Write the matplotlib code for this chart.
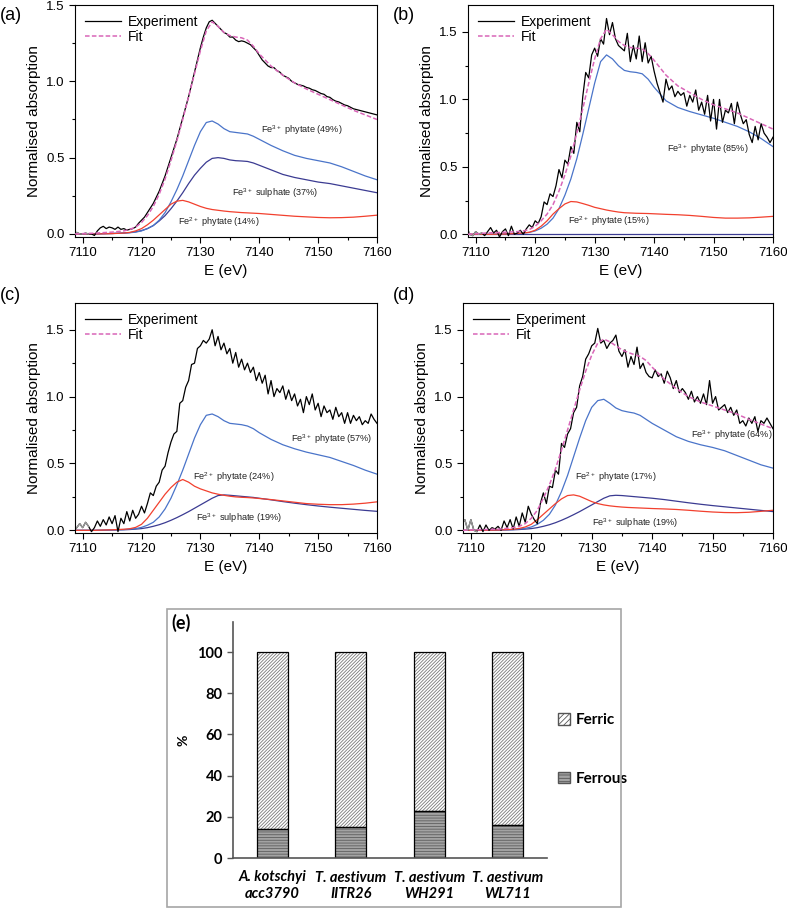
import numpy as np
import matplotlib
matplotlib.use("Agg")
import matplotlib.pyplot as plt
from matplotlib.patches import Rectangle, Patch
from matplotlib.ticker import MultipleLocator

plt.rcParams['font.family'] = ['Liberation Sans', 'DejaVu Sans']
plt.rcParams['mathtext.default'] = 'regular'
plt.rcParams['hatch.linewidth'] = 0.6

# energy grids (eV)
e_exp = np.arange(7108.5, 7160.25, 0.5)
e_comp = [7108.7, 7112, 7115, 7117, 7118, 7119, 7120, 7121, 7122, 7123, 7124, 7125,
          7126, 7127, 7128, 7129, 7130, 7131, 7132, 7133, 7134, 7135, 7136, 7137,
          7138, 7139, 7140, 7142, 7144, 7146, 7148, 7150, 7152, 7154, 7156, 7158, 7160]

# ---- panel (a)
a_exp = [0.0, 0.01, 0.0, 0.0, 0.005, 0.0, 0.0, -0.01, 0.02, 0.04,
         0.05, 0.035, 0.045, 0.04, 0.03, 0.045, 0.03, 0.035, 0.025, 0.03,
         0.035, 0.045, 0.07,
         0.09, 0.11, 0.14, 0.17, 0.2, 0.24, 0.28, 0.33, 0.38, 0.44,
         0.5, 0.56, 0.62, 0.69, 0.76, 0.83, 0.9, 0.98, 1.06, 1.14,
         1.22, 1.29, 1.35, 1.39, 1.40, 1.38, 1.36, 1.34, 1.32, 1.31,
         1.29, 1.29, 1.27, 1.26, 1.265, 1.26, 1.25, 1.24, 1.22, 1.2,
         1.17, 1.14, 1.12, 1.10, 1.09, 1.09, 1.07, 1.06, 1.04, 1.03,
         1.02, 1.0, 0.99, 0.98, 0.975, 0.97, 0.96, 0.955, 0.945, 0.94,
         0.93, 0.92, 0.915, 0.90, 0.895, 0.88, 0.87, 0.865, 0.855, 0.845,
         0.84, 0.83, 0.82, 0.815, 0.81, 0.805, 0.80, 0.795, 0.79, 0.785,
         0.78]
a_fit = [0.0, 0.005, 0.012, 0.02, 0.03, 0.045, 0.075, 0.12, 0.18, 0.26, 0.36, 0.48,
         0.61, 0.75, 0.9, 1.05, 1.2, 1.33, 1.39, 1.36, 1.32, 1.30, 1.29, 1.285,
         1.27, 1.23, 1.18, 1.10, 1.04, 0.99, 0.95, 0.915, 0.88, 0.845, 0.81, 0.78, 0.75]
a_phy3 = [0.0, 0.0, 0.003, 0.006, 0.008, 0.012, 0.02, 0.035, 0.055, 0.09, 0.14, 0.21,
          0.29, 0.38, 0.48, 0.58, 0.67, 0.73, 0.74, 0.72, 0.69, 0.67, 0.665, 0.66,
          0.655, 0.64, 0.62, 0.58, 0.545, 0.515, 0.495, 0.48, 0.465, 0.44, 0.41, 0.38, 0.355]
a_sul3 = [0.0, 0.0, 0.003, 0.006, 0.009, 0.014, 0.022, 0.035, 0.055, 0.085, 0.12, 0.165,
          0.215, 0.27, 0.33, 0.385, 0.43, 0.47, 0.495, 0.50, 0.495, 0.485, 0.48, 0.478,
          0.475, 0.465, 0.45, 0.42, 0.39, 0.37, 0.355, 0.34, 0.33, 0.315, 0.30, 0.285, 0.27]
a_phy2 = [0.0, 0.0, 0.002, 0.006, 0.01, 0.02, 0.035, 0.06, 0.09, 0.125, 0.16, 0.195,
          0.215, 0.22, 0.21, 0.195, 0.18, 0.168, 0.16, 0.155, 0.15, 0.146, 0.143, 0.14,
          0.138, 0.136, 0.134, 0.128, 0.122, 0.116, 0.112, 0.108, 0.106, 0.107, 0.11, 0.116, 0.123]

# ---- panel (b)
b_exp = [0.05, 0.0, -0.01, 0.02, 0.0, 0.01, -0.01, 0.02, 0.05, 0.01,
         0.03, -0.02, 0.02, 0.04, -0.01, 0.06, 0.0, 0.01, 0.03, 0.0,
         0.04, 0.07, 0.05,
         0.1, 0.08, 0.13, 0.24, 0.22, 0.3, 0.28, 0.36, 0.48, 0.42,
         0.55, 0.52, 0.65, 0.6, 0.83, 0.76, 1.02, 1.2, 1.16, 1.33,
         1.38, 1.32, 1.45, 1.41, 1.60, 1.48, 1.57, 1.45, 1.40, 1.38,
         1.36, 1.49, 1.28, 1.40, 1.30, 1.47, 1.28, 1.42, 1.27, 1.32,
         1.21, 1.12, 1.05, 0.98, 1.15, 1.07, 1.10, 1.02, 1.06, 1.03,
         1.05, 0.95, 1.03, 0.98, 1.07, 0.92, 0.98, 0.89, 1.03, 0.84,
         1.0, 0.78, 1.0, 0.83, 0.92, 0.90, 0.97, 0.82, 0.98, 0.89,
         0.82, 0.85, 0.74, 0.68, 0.80, 0.70, 0.82, 0.75, 0.72, 0.68,
         0.72]
b_fit = [0.0, 0.01, 0.015, 0.02, 0.025, 0.035, 0.06, 0.1, 0.15, 0.22, 0.32, 0.44,
         0.58, 0.75, 0.93, 1.12, 1.3, 1.45, 1.52, 1.48, 1.43, 1.40, 1.385, 1.38,
         1.375, 1.34, 1.29, 1.18, 1.10, 1.05, 1.0, 0.96, 0.93, 0.90, 0.86, 0.82, 0.78]
b_phy3 = [0.0, 0.0, 0.003, 0.006, 0.009, 0.014, 0.025, 0.045, 0.075, 0.12, 0.19, 0.29,
          0.41, 0.56, 0.74, 0.93, 1.12, 1.28, 1.33, 1.30, 1.25, 1.215, 1.205, 1.20,
          1.19, 1.15, 1.09, 0.99, 0.94, 0.91, 0.885, 0.86, 0.83, 0.80, 0.76, 0.71, 0.65]
b_sul3 = [0.0] * 37
b_phy2 = [0.0, 0.0, 0.002, 0.006, 0.01, 0.015, 0.03, 0.06, 0.1, 0.15, 0.19, 0.225,
          0.243, 0.24, 0.228, 0.215, 0.2, 0.19, 0.18, 0.172, 0.165, 0.16, 0.158, 0.156,
          0.155, 0.154, 0.152, 0.148, 0.145, 0.14, 0.133, 0.125, 0.12, 0.12, 0.122, 0.127, 0.133]

# ---- panel (c)
c_exp = [0.0, 0.02, 0.05, 0.02, 0.06, 0.03, -0.01, 0.02, 0.07, 0.03,
         0.08, 0.04, 0.10, 0.05, 0.11, -0.01, 0.09, 0.05, 0.14, 0.07,
         0.15, 0.09, 0.12,
         0.18, 0.13, 0.2, 0.28, 0.26, 0.33, 0.36, 0.45, 0.48, 0.58,
         0.66, 0.72, 0.74, 0.95, 0.97, 1.07, 1.12, 1.24, 1.25, 1.36,
         1.38, 1.42, 1.40, 1.43, 1.50, 1.38, 1.45, 1.35, 1.40, 1.32,
         1.36, 1.25, 1.33, 1.22, 1.28, 1.20, 1.25, 1.18, 1.22, 1.12,
         1.18, 1.10, 1.16, 1.02, 1.12, 1.00, 1.06, 1.03, 1.08, 0.98,
         1.05, 0.97, 1.02, 0.93, 0.98, 0.88, 1.0, 0.94, 1.02, 0.90,
         0.95, 0.85, 0.93, 0.88, 0.90, 0.83, 0.92, 0.85, 0.88, 0.80,
         0.88, 0.80, 0.86, 0.82, 0.85, 0.79, 0.82, 0.80, 0.87, 0.83,
         0.80]
c_fit = [0.02, 0.02, 0.025, 0.035, 0.05, 0.075, 0.11, 0.17, 0.25, 0.35, 0.46, 0.6,
         0.75, 0.9, 1.05, 1.2, 1.32, 1.4, 1.43, 1.41, 1.37, 1.34, 1.32, 1.31,
         1.29, 1.25, 1.2, 1.11, 1.04, 0.99, 0.96, 0.93, 0.9, 0.87, 0.84, 0.81, 0.78]
c_phy3 = [0.0, 0.0, 0.003, 0.006, 0.009, 0.013, 0.022, 0.038, 0.06, 0.1, 0.16, 0.24,
          0.34, 0.45, 0.57, 0.69, 0.79, 0.86, 0.87, 0.85, 0.82, 0.80, 0.795, 0.79,
          0.78, 0.76, 0.73, 0.68, 0.64, 0.61, 0.585, 0.565, 0.545, 0.515, 0.485, 0.45, 0.42]
c_sul3 = [0.0, 0.0, 0.002, 0.004, 0.006, 0.009, 0.013, 0.02, 0.03, 0.042, 0.057, 0.075,
          0.095, 0.117, 0.14, 0.165, 0.19, 0.215, 0.24, 0.26, 0.265, 0.262, 0.258, 0.254,
          0.25, 0.246, 0.24, 0.228, 0.215, 0.203, 0.192, 0.182, 0.173, 0.165, 0.157, 0.149, 0.142]
c_phy2 = [0.0, 0.0, 0.004, 0.008, 0.012, 0.022, 0.045, 0.09, 0.15, 0.21, 0.27, 0.32,
          0.36, 0.38, 0.36, 0.33, 0.31, 0.295, 0.28, 0.27, 0.262, 0.255, 0.25, 0.247,
          0.245, 0.242, 0.238, 0.23, 0.22, 0.21, 0.2, 0.195, 0.192, 0.192, 0.196, 0.203, 0.213]

# ---- panel (d)
d_exp = [0.05, 0.08, 0.0, 0.08, 0.0, -0.01, 0.04, -0.01, 0.04, 0.0,
         0.02, 0.01, 0.03, 0.0, 0.07, 0.02, 0.08, 0.01, 0.10, 0.03,
         0.13, 0.06, 0.18,
         0.12, 0.08, 0.05, 0.20, 0.28, 0.20, 0.33, 0.32, 0.45, 0.42,
         0.65, 0.62, 0.72, 0.76, 0.88, 0.92, 1.08, 1.15, 1.28, 1.32,
         1.38, 1.40, 1.51, 1.40, 1.42, 1.36, 1.40, 1.42, 1.46, 1.34,
         1.30, 1.35, 1.22, 1.30, 1.24, 1.37, 1.21, 1.25, 1.18, 1.15,
         1.14, 1.20, 1.15, 1.17, 1.10, 1.19, 1.14, 1.06, 1.12, 1.03,
         1.06, 1.03, 0.98, 1.04, 0.96, 1.0, 0.95, 1.02, 0.94, 1.12,
         0.95, 1.0, 0.90, 0.92, 0.94, 0.88, 0.92, 0.86, 0.90, 0.80,
         0.82, 0.78, 0.84, 0.80, 0.85, 0.74, 0.82, 0.80, 0.84, 0.80,
         0.76]
d_fit = [0.0, 0.005, 0.01, 0.02, 0.03, 0.05, 0.09, 0.15, 0.24, 0.34, 0.46, 0.6,
         0.75, 0.9, 1.05, 1.19, 1.31, 1.40, 1.43, 1.41, 1.38, 1.35, 1.33, 1.315,
         1.30, 1.27, 1.22, 1.13, 1.06, 1.0, 0.96, 0.93, 0.9, 0.87, 0.83, 0.795, 0.76]
d_phy3 = [0.0, 0.0, 0.003, 0.006, 0.01, 0.015, 0.025, 0.045, 0.075, 0.12, 0.19, 0.29,
          0.41, 0.55, 0.69, 0.82, 0.92, 0.97, 0.98, 0.95, 0.915, 0.895, 0.885, 0.877,
          0.86, 0.83, 0.80, 0.75, 0.70, 0.665, 0.64, 0.62, 0.595, 0.56, 0.525, 0.49, 0.465]
d_sul3 = [0.0, 0.0, 0.002, 0.004, 0.006, 0.009, 0.013, 0.02, 0.03, 0.042, 0.057, 0.075,
          0.095, 0.117, 0.14, 0.165, 0.19, 0.215, 0.24, 0.258, 0.262, 0.26, 0.256, 0.252,
          0.248, 0.244, 0.24, 0.23, 0.218, 0.206, 0.195, 0.185, 0.176, 0.167, 0.158, 0.149, 0.14]
d_phy2 = [0.0, 0.0, 0.003, 0.008, 0.014, 0.025, 0.045, 0.08, 0.12, 0.16, 0.2, 0.235,
          0.26, 0.265, 0.255, 0.235, 0.215, 0.2, 0.19, 0.183, 0.178, 0.174, 0.171, 0.169,
          0.167, 0.165, 0.163, 0.16, 0.156, 0.15, 0.143, 0.137, 0.133, 0.132, 0.135, 0.142, 0.15]

# component labels: (text, x, y)
a_labels = [('Fe$^{3+}$ phytate (49%)', 7147.2, 0.68),
            ('Fe$^{3+}$ sulphate (37%)', 7142.7, 0.27),
            ('Fe$^{2+}$ phytate (14%)', 7133.2, 0.08)]
b_labels = [('Fe$^{3+}$ phytate (85%)', 7149.1, 0.63),
            ('Fe$^{2+}$ phytate (15%)', 7132.4, 0.10)]
c_labels = [('Fe$^{3+}$ phytate (57%)', 7152.3, 0.68),
            ('Fe$^{2+}$ phytate (24%)', 7135.6, 0.40),
            ('Fe$^{3+}$ sulphate (19%)', 7136.5, 0.09)]
d_labels = [('Fe$^{3+}$ phytate (64%)', 7153.1, 0.71),
            ('Fe$^{2+}$ phytate (17%)', 7134.0, 0.395),
            ('Fe$^{3+}$ sulphate (19%)', 7137.2, 0.05)]

# ---- panel (e)
samples = ['A. kotschyi\nacc3790', 'T. aestivum\nIITR26', 'T. aestivum\nWH291', 'T. aestivum\nWL711']
ferrous = [14, 15, 23, 16]
ferric = [86, 85, 77, 84]

c_blue = '#4a74c9'
c_navy = '#3b3b92'
c_red = '#f2402e'
c_fit = '#d966b8'

fig = plt.figure(figsize=(7.87, 9.08), dpi=100)
W, H = 787, 908


def px_axes(l, t, r, b):
    return fig.add_axes([l / W, 1 - b / H, (r - l) / W, (b - t) / H])


def xanes(ax, exp, fit, phy3, sul3, phy2, labels, ytop, tag, tag_xy):
    ax.plot(e_comp, sul3, color=c_navy, lw=0.9)
    ax.plot(e_comp, phy3, color=c_blue, lw=0.9)
    ax.plot(e_comp, phy2, color=c_red, lw=0.9)
    ax.plot(e_exp, exp, color='black', lw=0.9, label='Experiment')
    ax.plot(e_exp[:6], exp[:6], color='#999999', lw=1.0)
    ax.plot(e_comp, fit, color=c_fit, lw=1.1, ls=(0, (3, 1.5)), label='Fit', zorder=3)
    for txt, x, y in labels:
        ax.text(x, y, txt, fontsize=6.6, ha='center', va='center', color='#222222')
    ax.set_xlim(7108.7, 7160)
    ax.set_ylim(-0.02, ytop)
    ax.xaxis.set_major_locator(MultipleLocator(10))
    ax.xaxis.set_minor_locator(MultipleLocator(5))
    ax.yaxis.set_major_locator(MultipleLocator(0.5))
    ax.yaxis.set_minor_locator(MultipleLocator(0.25))
    ax.tick_params(which='both', direction='out', labelsize=9.5, width=0.8)
    ax.tick_params(which='major', length=4)
    ax.tick_params(which='minor', length=2.5)
    ax.yaxis.set_major_formatter(plt.FormatStrFormatter('%.1f'))
    ax.set_xlabel('E (eV)', fontsize=11, labelpad=3)
    ax.set_ylabel('Normalised absorption', fontsize=11, labelpad=4)
    for s in ax.spines.values():
        s.set_linewidth(0.8)
    ax.legend(loc='upper left', frameon=False, fontsize=10, handlelength=2.6,
              borderaxespad=0.3, labelspacing=0.1, handletextpad=0.5)
    fig.text(tag_xy[0] / W, 1 - tag_xy[1] / H, tag, fontsize=13, ha='left', va='center')


ax_a = px_axes(75, 5, 377, 237)
xanes(ax_a, a_exp, a_fit, a_phy3, a_sul3, a_phy2, a_labels, 1.5, '(a)', (0, 15))
ax_b = px_axes(468, 5, 773, 237)
xanes(ax_b, b_exp, b_fit, b_phy3, b_sul3, b_phy2, b_labels, 1.7, '(b)', (393, 15))
ax_c = px_axes(75, 303, 377, 533)
xanes(ax_c, c_exp, c_fit, c_phy3, c_sul3, c_phy2, c_labels, 1.7, '(c)', (0, 295))
ax_d = px_axes(463, 303, 773, 533)
xanes(ax_d, d_exp, d_fit, d_phy3, d_sul3, d_phy2, d_labels, 1.7, '(d)', (393, 295))

# bar panel
fig.patches.append(Rectangle((167 / W, 1 - 907 / H), 454 / W, 298 / H, transform=fig.transFigure,
                             fill=False, edgecolor='#a6a6a6', lw=1.2))
ax_e = px_axes(233, 622, 547, 858)
xpos = np.arange(len(samples))
bw = 0.4
ax_e.bar(xpos, ferrous, bw, color='#a3a3a3', hatch='------', edgecolor='#5e5e5e', lw=0)
ax_e.bar(xpos, ferric, bw, bottom=ferrous, color='white', hatch='//////////',
         edgecolor='#7a7a7a', lw=0)
ax_e.bar(xpos, ferrous, bw, fill=False, edgecolor='black', lw=0.9)
ax_e.bar(xpos, ferric, bw, bottom=ferrous, fill=False, edgecolor='black', lw=0.9)
ax_e.set_xlim(-0.5, len(samples) - 0.5)
ax_e.set_ylim(0, 114.6)
ax_e.set_yticks([0, 20, 40, 60, 80, 100])
ax_e.set_xticks(xpos)
ax_e.set_xticklabels(samples, fontsize=10.5, fontweight='bold', fontstyle='italic', family='Lato')
for lab in ax_e.get_yticklabels():
    lab.set_fontweight('bold')
    lab.set_family('Lato')
ax_e.tick_params(axis='y', labelsize=10.5, direction='out', length=4, width=1, color='#555555')
ax_e.tick_params(axis='x', length=0, pad=9)
ax_e.spines['top'].set_visible(False)
ax_e.spines['right'].set_visible(False)
ax_e.spines['left'].set_color('#555555')
ax_e.spines['bottom'].set_color('#555555')
ax_e.spines['left'].set_linewidth(1.2)
ax_e.spines['bottom'].set_linewidth(1.2)
ax_e.set_ylabel('%', fontsize=10, fontweight='bold', family='Lato')
ax_e.yaxis.set_label_coords(-0.137, 0.5)
handles = [Patch(facecolor='white', edgecolor='#555555', hatch='//////', label='Ferric'),
           Patch(facecolor='#a3a3a3', edgecolor='#555555', hatch='-----', label='Ferrous')]
ax_e.legend(handles=handles, loc='center left', bbox_to_anchor=(0.99, 0.46), frameon=False,
            prop={'family': 'Lato', 'weight': 'bold', 'size': 11},
            handlelength=0.8, handleheight=0.8, labelspacing=2.9, handletextpad=0.4)
fig.text(171 / W, 1 - 623 / H, '(e)', fontsize=13, fontweight='bold', family='Lato',
         ha='left', va='center')

fig.savefig('out.png', dpi=100)
